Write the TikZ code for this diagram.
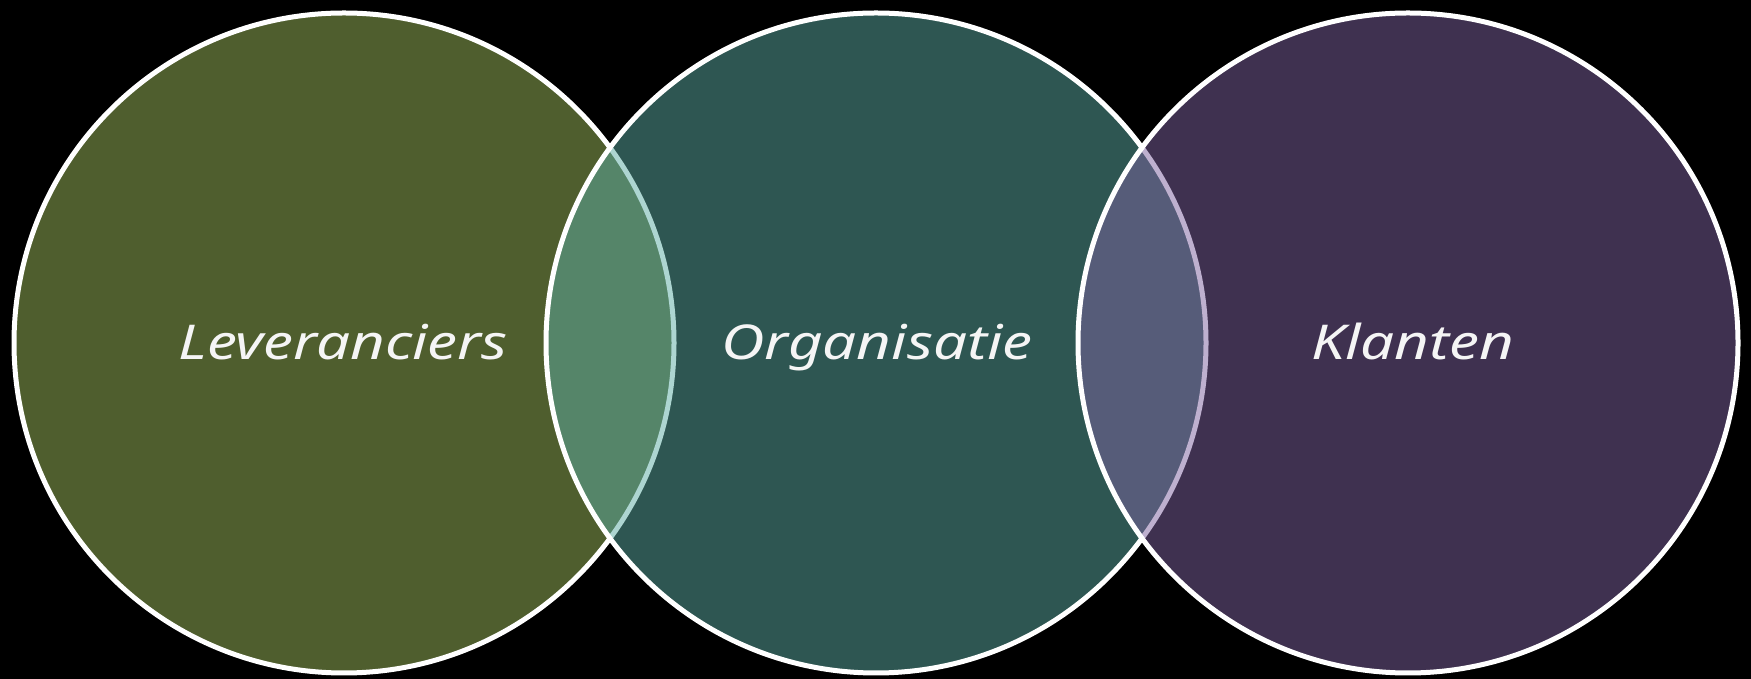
\documentclass[tikz,border=0pt]{standalone}
\usepackage{fontspec}
\setmainfont{Noto Sans}
\definecolor{cleft}{RGB}{79,94,46}
\definecolor{cmid}{RGB}{92,172,164}
\definecolor{cright}{RGB}{126,98,160}
\definecolor{txt}{RGB}{245,245,245}
\begin{document}
\begin{tikzpicture}[x=1pt,y=1pt,
  ring/.style={draw=white,line width=5pt},
  lbl/.style={text=txt,font=\itshape\fontsize{48}{54}\selectfont,inner sep=0pt,xscale=1.25,transform shape}]
\fill[black] (0,0) rectangle (1751,679);
\useasboundingbox (0,0) rectangle (1751,679);
\node[circle,minimum size=660pt,fill=cleft,ring] (lev) at (344,336) {};
\node[circle,minimum size=660pt,fill=cmid,fill opacity=0.5,ring,draw opacity=1] (org) at (876,336) {};
\node[circle,minimum size=660pt,fill=cright,fill opacity=0.5,ring,draw opacity=1] (kla) at (1408,336) {};
\node[lbl,anchor=base] (tlev) at (343,319) {Leveranciers};
\node[lbl,anchor=base] (torg) at (877,319) {Organisatie};
\node[lbl,anchor=base] (tkla) at (1413,319) {Klanten};
\end{tikzpicture}
\end{document}
